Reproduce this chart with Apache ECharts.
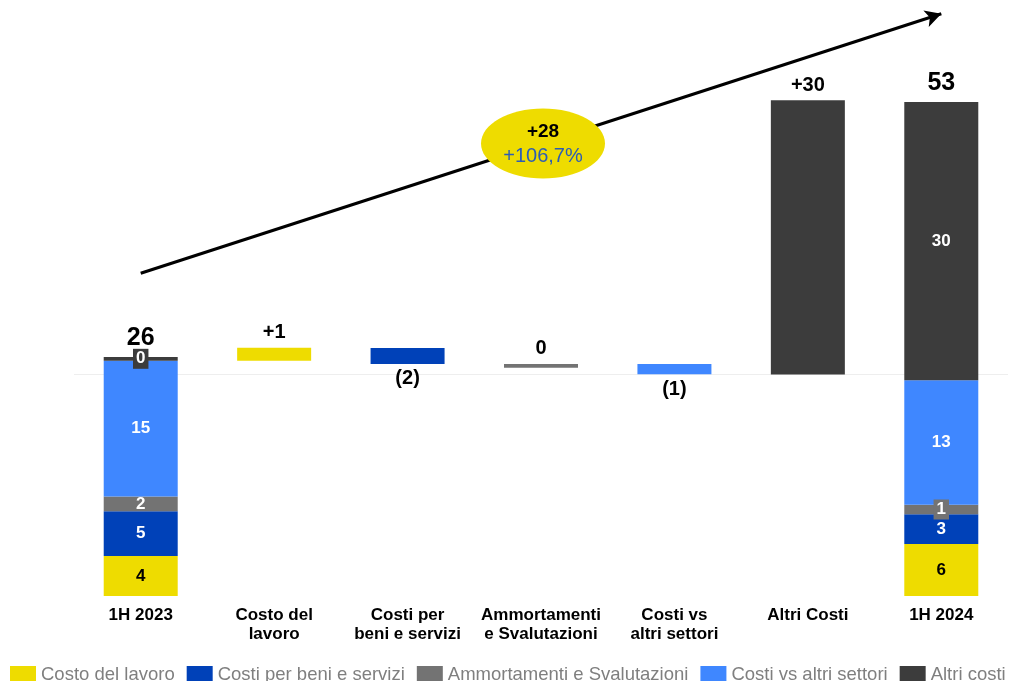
<!DOCTYPE html>
<html>
<head>
<meta charset="utf-8">
<script src="https://cdn.jsdelivr.net/npm/echarts@6/dist/echarts.min.js"></script>
<style>
html,body{margin:0;padding:0;background:#fff;}
#chart{width:1033px;height:681px;}
</style>
</head>
<body>
<div id="chart"></div>
<script>
// ---- data ----
const categories = ['1H 2023', 'Costo del\nlavoro', 'Costi per\nbeni e servizi', 'Ammortamenti\ne Svalutazioni', 'Costi vs\naltri settori', 'Altri Costi', '1H 2024'];
const seriesNames = ['Costo del lavoro', 'Costi per beni e servizi', 'Ammortamenti e Svalutazioni', 'Costi vs altri settori', 'Altri costi'];
const baseValues = [0, 25.3, 24.95, 24.55, 23.85, 23.8, 0];
const costoLavoro = [4.3, 1.4, '-', '-', '-', '-', 5.6];
const costiBeni = [4.8, '-', 1.7, '-', '-', '-', 3.2];
const ammortamenti = [1.6, '-', '-', 0.4, '-', '-', 1.0];
const costiAltriSettori = [14.6, '-', '-', '-', 1.1, '-', 13.4];
const altriCosti = [0.4, '-', '-', '-', '-', 29.5, 29.9];
const costoLavoroLabels = ['4', '+1', '', '', '', '', '6'];
const costiBeniLabels = ['5', '', '(2)', '', '', '', '3'];
const ammortamentiLabels = ['2', '', '', '0', '', '', '1'];
const costiAltriSettoriLabels = ['15', '', '', '', '(1)', '', '13'];
const altriCostiLabels = ['0', '', '', '', '', '+30', '30'];
const totals = [25.7, '-', '-', '-', '-', '-', 53.1];
const totalLabels = ['26', '', '', '', '', '', '53'];
const connectorLevel = 23.8;
const arrowStart = [0, 34.7];
const arrowEnd = [6, 62.6];
const bubbleTop = '+28';
const bubbleBottom = '+106,7%';

// ---- styling ----
const FONT = "'Liberation Sans', Arial, sans-serif";
const colors = ['#EEDC00', '#0041B8', '#737373', '#3F87FF', '#3C3C3C'];
const values = [costoLavoro, costiBeni, ammortamenti, costiAltriSettori, altriCosti];
const labels = [costoLavoroLabels, costiBeniLabels, ammortamentiLabels, costiAltriSettoriLabels, altriCostiLabels];
const totalIdx = [0, categories.length - 1];

function buildData(si) {
  return values[si].map((v, i) => {
    const txt = labels[si][i];
    if (v === '-') return '-';
    const item = { value: v };
    if (totalIdx.indexOf(i) >= 0) {
      const small = v < 1.2;
      item.label = {
        show: true, position: 'inside', formatter: txt,
        color: si === 0 ? '#000' : '#fff', fontWeight: 'bold', fontSize: 17, fontFamily: FONT,
        backgroundColor: small ? colors[si] : 'transparent',
        padding: small ? [2, 3, 1, 3] : 0
      };
    } else {
      const neg = txt.charAt(0) === '(';
      item.label = {
        show: true, position: neg ? 'bottom' : 'top', distance: 5, formatter: txt,
        color: '#000', fontWeight: 'bold', fontSize: 20, fontFamily: FONT
      };
    }
    return item;
  });
}

const chart = echarts.init(document.getElementById('chart'));
const series = [{
  name: 'base', type: 'bar', stack: 'w', data: baseValues, barWidth: 74, z: 1,
  itemStyle: { color: 'transparent' }, silent: true, legendHoverLink: false,
  markLine: {
    silent: true, symbol: 'none', label: { show: false }, z: 0,
    lineStyle: { color: '#eeeeee', width: 1, type: 'solid' },
    data: [{ yAxis: connectorLevel }]
  }
}];
seriesNames.forEach((n, si) => {
  series.push({
    name: n, type: 'bar', stack: 'w', barWidth: 74, z: 3,
    itemStyle: { color: colors[si] },
    data: buildData(si)
  });
});
series.push({
  name: 'totals', type: 'scatter', symbolSize: 0, data: totals, z: 4,
  itemStyle: { opacity: 1 },
  label: {
    show: true, position: 'top', distance: 6,
    formatter: p => totalLabels[p.dataIndex],
    color: '#000', fontWeight: 'bold', fontSize: 25, fontFamily: FONT
  },
  markLine: {
    silent: true, symbol: ['none', 'arrow'], symbolSize: [13, 16],
    label: { show: false },
    lineStyle: { color: '#000', width: 3, type: 'solid', opacity: 1 },
    data: [[{ coord: arrowStart }, { coord: arrowEnd }]]
  }
});

chart.setOption({
  animation: false,
  textStyle: { fontFamily: FONT },
  grid: { left: 74, right: 25, top: 10, bottom: 85, containLabel: false },
  xAxis: {
    type: 'category', data: categories,
    axisLine: { show: false }, axisTick: { show: false },
    axisLabel: { interval: 0, margin: 10, color: '#000', fontWeight: 'bold', fontSize: 17, lineHeight: 19, fontFamily: FONT }
  },
  yAxis: { type: 'value', min: 0, max: 63, show: false, splitLine: { show: false } },
  legend: {
    data: seriesNames, left: 5, top: 660, itemWidth: 26, itemHeight: 17, itemGap: 12,
    icon: 'rect', textStyle: { color: '#7f7f7f', fontSize: 18.5, fontFamily: FONT }
  },
  series: series
});

// bubble at the midpoint of the arrow
const p0 = chart.convertToPixel({ gridIndex: 0 }, arrowStart);
const p1 = chart.convertToPixel({ gridIndex: 0 }, arrowEnd);
const cx = (p0[0] + p1[0]) / 2 + 2, cy = (p0[1] + p1[1]) / 2;
chart.setOption({
  graphic: [
    { type: 'ellipse', shape: { cx: cx, cy: cy, rx: 62, ry: 35 }, style: { fill: '#EEDC00' }, z: 100 },
    { type: 'text', x: cx, y: cy - 12, z: 101, style: { text: bubbleTop, fill: '#000', font: "bold 19px " + FONT, textAlign: 'center', textVerticalAlign: 'middle' } },
    { type: 'text', x: cx, y: cy + 13, z: 101, style: { text: bubbleBottom, fill: '#2C5DB5', font: "20px " + FONT, textAlign: 'center', textVerticalAlign: 'middle' } }
  ]
});
</script>
</body>
</html>
